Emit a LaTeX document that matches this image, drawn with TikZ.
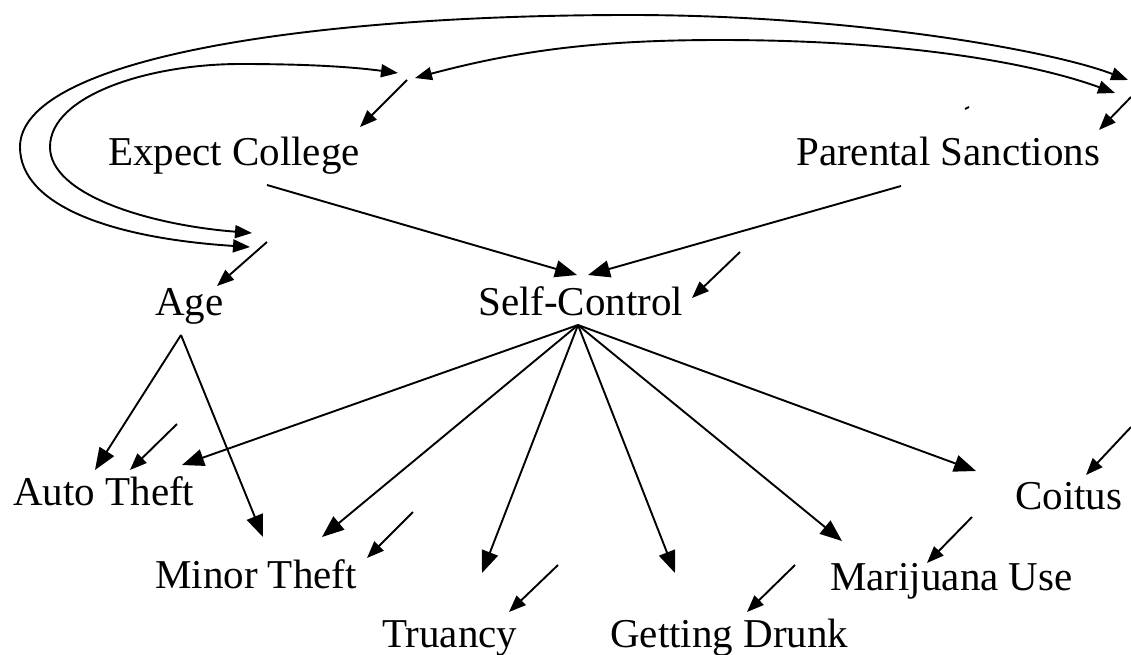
\documentclass[tikz,border=0pt]{standalone}
\usepackage{fontspec}
\setmainfont{Liberation Serif}
\usetikzlibrary{arrows.meta}
\begin{document}
\begin{tikzpicture}[x=1pt,y=-1pt,line join=round,
  lbl/.style={anchor=base west,inner sep=0pt,font=\fontsize{41}{48}\selectfont},
  effect/.style={line width=1.9pt,-{Triangle[length=22pt,width=17pt]}},
  resid/.style={line width=1.9pt,-{Triangle[length=17pt,width=13pt]}},
  covar/.style={line width=1.9pt,{Triangle[length=17pt,width=13pt]}-{Triangle[length=17pt,width=13pt]}}]
\useasboundingbox (0,0) rectangle (1131,654);

% variable labels
\node[lbl] (ec)  at (108,165) {Expect College};
\node[lbl] (ps)  at (796,165) {Parental Sanctions};
\node[lbl] (age) at (155,315) {Age};
\node[lbl] (sc)  at (478,315) {Self-Control};
\node[lbl] (at)  at (13,505)  {Auto Theft};
\node[lbl] (co)  at (1015,509) {Coitus};
\node[lbl] (mt)  at (155,588) {Minor Theft};
\node[lbl] (mj)  at (830,590) {Marijuana Use};
\node[lbl] (tr)  at (382,647) {Truancy};
\node[lbl] (gd)  at (610,647) {Getting Drunk};

% connector end points
\coordinate (ecCovL) at (398,73);
\coordinate (ecCovR) at (415,78);
\coordinate (ecRes)  at (407,80);
\coordinate (ecTip)  at (360,127);
\coordinate (psCovO) at (1128,80);
\coordinate (psCovI) at (1115,93);
\coordinate (psRes)  at (1131,97);
\coordinate (psTip)  at (1099,130);
\coordinate (ageCovO) at (250,247);
\coordinate (ageCovI) at (252,233);
\coordinate (ageRes) at (267,242);
\coordinate (ageTip) at (217,286);
\coordinate (ecOut)  at (267,185);
\coordinate (psOut)  at (901,186);
\coordinate (scInL)  at (577,275);
\coordinate (scInR)  at (588,275);
\coordinate (scRes)  at (740,252);
\coordinate (scTip)  at (692,298);
\coordinate (scOut)  at (578,325);
\coordinate (ageOut) at (181,335);
\coordinate (atA)    at (95,470);
\coordinate (atS)    at (182,465);
\coordinate (atRes)  at (177,424);
\coordinate (atTip)  at (130,470);
\coordinate (mtA)    at (263,537);
\coordinate (mtS)    at (322,537);
\coordinate (mtRes)  at (413,512);
\coordinate (mtTip)  at (367,558);
\coordinate (trS)    at (482,573);
\coordinate (trRes)  at (558,565);
\coordinate (trTip)  at (509,612);
\coordinate (gdS)    at (675,573);
\coordinate (gdRes)  at (795,565);
\coordinate (gdTip)  at (747,612);
\coordinate (mjS)    at (842,541);
\coordinate (mjRes)  at (972,517);
\coordinate (mjTip)  at (927,563);
\coordinate (coS)    at (976,471);
\coordinate (coRes)  at (1131,427);
\coordinate (coTip)  at (1086,475);

% covariances among the exogenous variables
\draw[covar] (ageCovO) .. controls (110,238) and (20,205) .. (20,147)
  .. controls (20,60) and (300,15) .. (630,15)
  .. controls (850,15) and (1050,50) .. (psCovO);
\draw[covar] (ageCovI) .. controls (150,225) and (50,195) .. (50,147)
  .. controls (50,95) and (150,64) .. (240,64)
  .. controls (320,64) and (360,68) .. (ecCovL);
\draw[covar] (ecCovR) .. controls (520,50) and (600,40) .. (720,40)
  .. controls (900,40) and (1030,62) .. (psCovI);

% disturbance terms
\draw[resid] (ecRes) -- (ecTip);
\draw[resid] (psRes) -- (psTip);
\draw[resid] (ageRes) -- (ageTip);
\draw[resid] (scRes) -- (scTip);
\draw[resid] (atRes) -- (atTip);
\draw[resid] (mtRes) -- (mtTip);
\draw[resid] (trRes) -- (trTip);
\draw[resid] (gdRes) -- (gdTip);
\draw[resid] (mjRes) -- (mjTip);
\draw[resid] (coRes) -- (coTip);

% causal paths
\draw[effect] (ecOut) -- (scInL);
\draw[effect] (psOut) -- (scInR);
\draw[effect] (ageOut) -- (atA);
\draw[effect] (ageOut) -- (mtA);
\draw[effect] (scOut) -- (atS);
\draw[effect] (scOut) -- (mtS);
\draw[effect] (scOut) -- (trS);
\draw[effect] (scOut) -- (gdS);
\draw[effect] (scOut) -- (mjS);
\draw[effect] (scOut) -- (coS);

% small stray mark
\draw[line width=1.9pt] (965,109) -- (969,107);
\end{tikzpicture}
\end{document}
